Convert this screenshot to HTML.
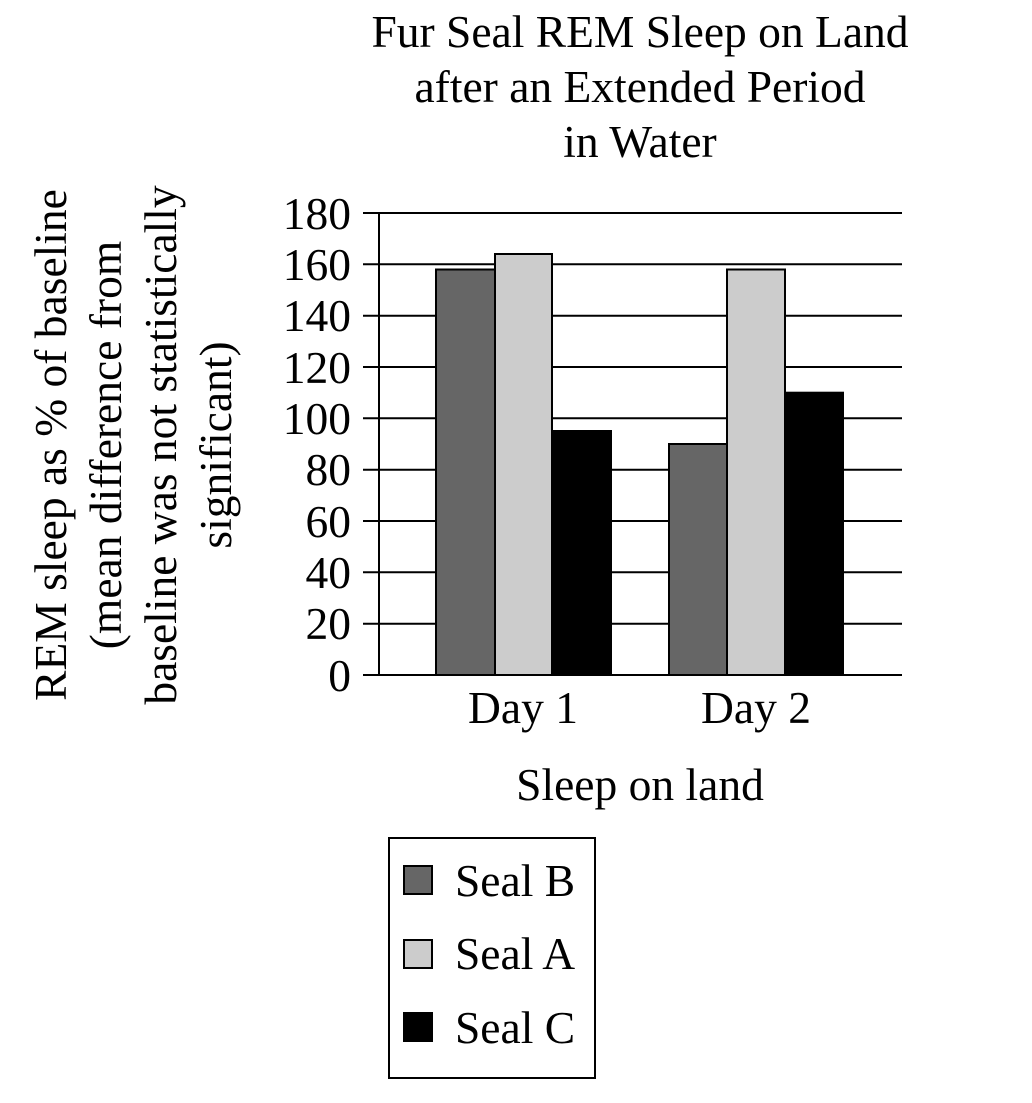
<!DOCTYPE html>
<html><head><meta charset="utf-8"><style>body{margin:0;background:#fff}</style></head>
<body>
<svg width="1032" height="1098" xmlns="http://www.w3.org/2000/svg" font-family="Liberation Serif, serif" font-size="45.5" fill="#000">
<g text-anchor="middle">
<text x="640" y="47">Fur Seal REM Sleep on Land</text>
<text x="640" y="102">after an Extended Period</text>
<text x="640" y="157">in Water</text>
</g>
<g text-anchor="middle">
<text transform="translate(66,445) rotate(-90)">REM sleep as % of baseline</text>
<text transform="translate(121,445) rotate(-90)">(mean difference from</text>
<text transform="translate(176,445) rotate(-90)">baseline was not statistically</text>
<text transform="translate(231,445) rotate(-90)">significant)</text>
</g>
<g stroke="#000" stroke-width="2">
<line x1="363" y1="213" x2="902" y2="213"/>
<line x1="363" y1="264.3" x2="902" y2="264.3"/>
<line x1="363" y1="315.7" x2="902" y2="315.7"/>
<line x1="363" y1="367" x2="902" y2="367"/>
<line x1="363" y1="418.3" x2="902" y2="418.3"/>
<line x1="363" y1="469.7" x2="902" y2="469.7"/>
<line x1="363" y1="521" x2="902" y2="521"/>
<line x1="363" y1="572.3" x2="902" y2="572.3"/>
<line x1="363" y1="623.7" x2="902" y2="623.7"/>
<line x1="363" y1="675" x2="902" y2="675"/>
<line x1="379" y1="213" x2="379" y2="675"/>
</g>
<g text-anchor="end">
<text x="351" y="229">180</text><text x="351" y="280">160</text><text x="351" y="331">140</text>
<text x="351" y="383">120</text><text x="351" y="434">100</text><text x="351" y="485">80</text>
<text x="351" y="537">60</text><text x="351" y="588">40</text><text x="351" y="639">20</text>
<text x="351" y="691">0</text>
</g>
<g stroke="#000" stroke-width="2">
<rect x="436" y="269.5" width="59" height="405.5" fill="#666"/>
<rect x="495" y="254" width="57" height="421" fill="#ccc"/>
<rect x="552" y="431" width="59" height="244" fill="#000"/>
<rect x="669" y="444" width="58" height="231" fill="#666"/>
<rect x="727" y="269.5" width="58" height="405.5" fill="#ccc"/>
<rect x="785" y="392.7" width="58" height="282.3" fill="#000"/>
</g>
<g text-anchor="middle">
<text x="523" y="723">Day 1</text>
<text x="756" y="723">Day 2</text>
<text x="640" y="800">Sleep on land</text>
</g>
<rect x="389" y="838" width="206" height="240" fill="none" stroke="#000" stroke-width="2"/>
<g stroke="#000" stroke-width="2">
<rect x="404" y="866" width="28" height="28" fill="#666"/>
<rect x="404" y="940" width="28" height="28" fill="#ccc"/>
<rect x="404" y="1013" width="28" height="28" fill="#000"/>
</g>
<g>
<text x="455" y="896">Seal B</text>
<text x="455" y="969">Seal A</text>
<text x="455" y="1043">Seal C</text>
</g>
</svg>
</body></html>
